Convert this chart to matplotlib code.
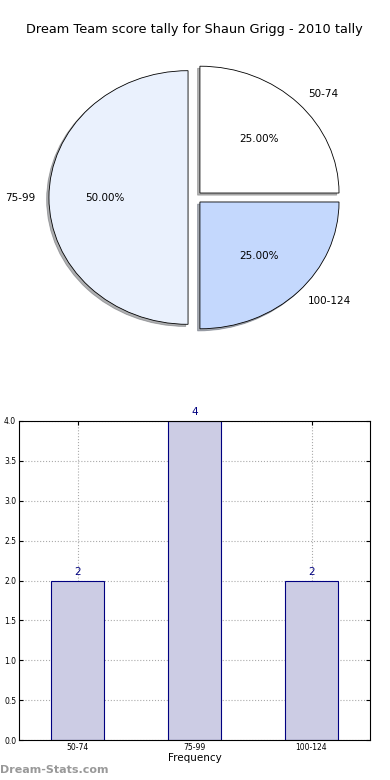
import matplotlib
matplotlib.use("Agg")
import matplotlib.pyplot as plt

# score ranges and how many games fell in each
labels = ['50-74', '75-99', '100-124']
counts = [2, 4, 2]
pie_colors = ['#ffffff', '#eaf1fd', '#c4d8fd']
explode = [0.05, 0.05, 0.05]

title = 'Dream Team score tally for Shaun Grigg - 2010 tally'

fig = plt.figure(figsize=(3.9, 7.8), dpi=100)

# --- pie (old style, not forced round) ---
W, H = 390.0, 780.0
ax1 = fig.add_axes([42 / W, 443 / H, 306 / W, 279 / H])
wedges, texts, autotexts = ax1.pie(counts, labels=labels, colors=pie_colors,
                                   explode=explode, autopct='%1.2f%%',
                                   shadow={'ox': -0.012, 'oy': -0.012, 'shade': 0.6},
                                   startangle=0, labeldistance=1.1, pctdistance=0.6,
                                   wedgeprops={'edgecolor': 'black', 'linewidth': 0.6},
                                   textprops={'fontsize': 7.5})
ax1.set_aspect('auto')
ax1.set_xlim(-1.1, 1.1)
ax1.set_ylim(-1.1, 1.1)
ax1.axis('off')
fig.text(194 / W, 1 - 30 / H, title, ha='center', va='center', fontsize=9.3)

# --- bar chart ---
ax2 = fig.add_axes([19 / W, 40 / H, 351 / W, 319 / H])
x = list(range(len(labels)))
bars = ax2.bar(x, counts, width=0.45, color='#ccccE4', edgecolor='navy', linewidth=0.8,
               zorder=2)
for xi, c in zip(x, counts):
    ax2.text(xi, c + 0.05, str(c), ha='center', va='bottom', color='navy', fontsize=7.5)
ax2.set_xlim(-0.5, 2.5)
ax2.set_ylim(0, 4)
ax2.set_xticks(x)
ax2.set_xticklabels(labels)
ax2.set_yticks([i * 0.5 for i in range(9)])
ax2.set_yticklabels(['%.1f' % (i * 0.5) for i in range(9)])
ax2.tick_params(labelsize=5.5, direction='in', top=True, right=True, length=3, pad=2)
ax2.grid(True, linestyle=':', color='#aaaaaa', linewidth=0.8, zorder=0)
ax2.set_axisbelow(True)
ax2.set_xlabel('Frequency', fontsize=7.5, labelpad=1)

fig.text(0, 10 / H, 'Dream-Stats.com', ha='left', va='center', fontsize=8,
         color='#999999', fontweight='bold')

fig.savefig('out.png', dpi=100)
